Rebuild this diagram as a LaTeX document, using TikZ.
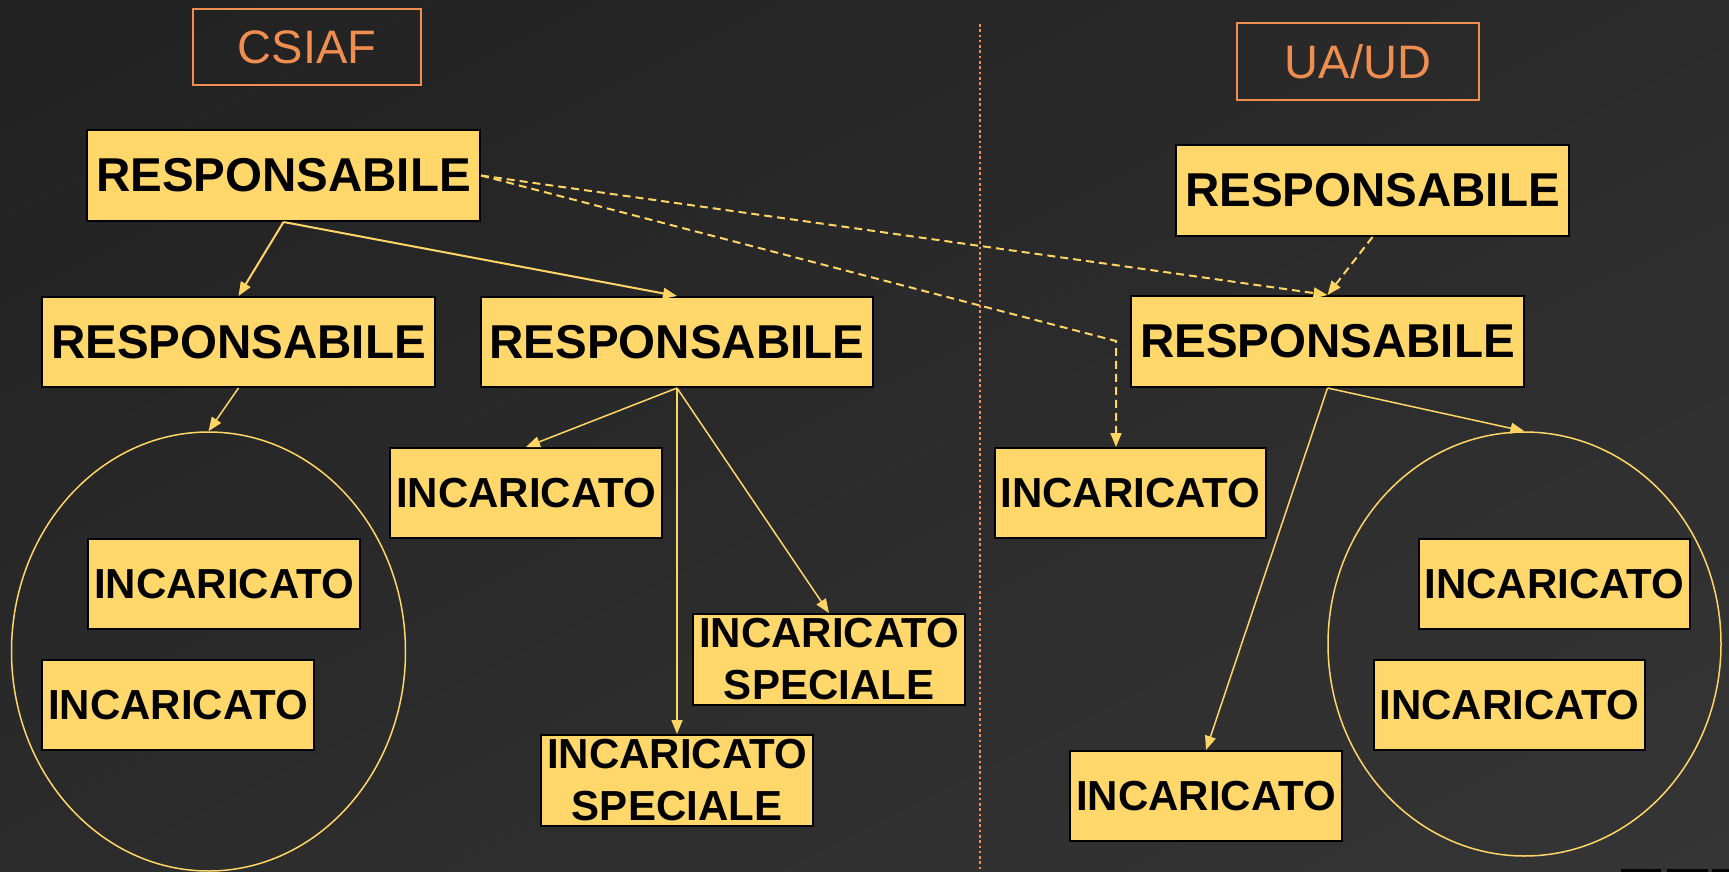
\documentclass[tikz,border=0pt]{standalone}
\usepackage{fontspec}
\setmainfont{Liberation Sans}
\usetikzlibrary{arrows.meta,shapes.geometric,shadings}
\definecolor{bgA}{RGB}{33,33,33}
\definecolor{bgM}{RGB}{43,43,43}
\definecolor{bgB}{RGB}{53,53,53}
\definecolor{boxY}{RGB}{255,215,106}
\definecolor{lineY}{RGB}{255,214,102}
\definecolor{orng}{RGB}{240,142,80}
\begin{document}
\begin{tikzpicture}[x=0.5pt,y=-0.5pt,
  rbox/.style={draw=black,line width=1pt,fill=boxY,inner sep=0pt,text=black,
    font=\bfseries\fontsize{23.75}{28}\selectfont,minimum width=196.5pt,minimum height=45.5pt},
  ibox/.style={draw=black,line width=1pt,fill=boxY,inner sep=0pt,text=black,align=center,
    font=\bfseries\fontsize{21}{26}\selectfont,minimum width=136pt,minimum height=45pt},
  lbox/.style={draw=orng,line width=0.8pt,text=orng,inner sep=0pt,
    font=\fontsize{23.5}{28}\selectfont,minimum height=38pt},
  grp/.style={draw=lineY,line width=0.75pt,ellipse,inner sep=0pt},
  tip/.style={-{Triangle[length=7pt,width=5.5pt]}},
  solidA/.style={tip,draw=lineY,line width=1pt},
  solidB/.style={tip,draw=lineY,line width=0.75pt},
  dashA/.style={tip,draw=lineY,line width=1pt,dash pattern=on 4pt off 2.5pt},
  divider/.style={draw=orng,line width=1.3pt,dash pattern=on 1.3pt off 1.35pt}
]
\useasboundingbox (0,0) rectangle (1729,872);
\shade[upper left=bgA,upper right=bgM,lower left=bgM,lower right=bgB] (0,0) rectangle (1729,872);
\fill[black] (1621,869) rectangle (1661,872);
\fill[black] (1667,869) rectangle (1708,872);
\fill[black] (1712,869) rectangle (1729,872);

% divider
\coordinate (dtop) at (980,24);
\coordinate (dbot) at (980,872);
\draw[divider] (dtop) -- (dbot);

% titles
\node[lbox,minimum width=114pt] (csiaf) at (307,47) {CSIAF};
\node[lbox,minimum width=121pt,minimum height=38.5pt] (uaud) at (1358,61.5) {UA/UD};

% groups
\node[grp,minimum width=197pt,minimum height=219.5pt] (ellL) at (208.5,651.5) {};
\node[grp,minimum width=196.5pt,minimum height=212pt] (ellR) at (1524.5,644) {};

% responsabili
\node[rbox] (topR) at (283.5,175.5) {RESPONSABILE};
\node[rbox,minimum height=45pt] (leftR) at (238.5,342) {RESPONSABILE};
\node[rbox,minimum width=196pt,minimum height=45pt] (midR) at (677,342) {RESPONSABILE};
\node[rbox] (uaTop) at (1372.5,190.5) {RESPONSABILE};
\node[rbox] (uaLow) at (1327.5,341.5) {RESPONSABILE};

% incaricati
\node[ibox] (inc1) at (526,493) {INCARICATO};
\node[ibox] (e1a) at (224,584) {INCARICATO};
\node[ibox] (e1b) at (178,705) {INCARICATO};
\node[ibox,minimum height=45.5pt] (spec1) at (829,659.5) {INCARICATO\\SPECIALE};
\node[ibox,minimum height=45.5pt] (spec2) at (677,780.5) {INCARICATO\\SPECIALE};
\node[ibox,minimum width=135.5pt] (inc2) at (1130.5,493) {INCARICATO};
\node[ibox] (inc3) at (1206,796) {INCARICATO};
\node[ibox,minimum width=135.5pt] (e2a) at (1554.5,584) {INCARICATO};
\node[ibox,minimum width=135.5pt] (e2b) at (1509.5,705) {INCARICATO};

% solid connectors
\draw[solidA] (topR.south) -- (leftR.north);
\draw[solidA] (topR.south) -- (midR.north);
\draw[solidB] (leftR.south) -- (ellL.north);
\draw[solidB] (midR.south) -- (inc1.north);
\draw[solidB] (midR.south) -- (spec2.north);
\draw[solidB] (midR.south) -- (spec1.north);
\draw[solidB] (uaLow.south) -- (inc3.north);
\draw[solidB] (uaLow.south) -- (ellR.north);

% dashed connectors
\coordinate (bend) at (1116,341);
\draw[dashA] (topR.east) -- (uaLow.north);
\draw[dashA] (topR.east) -- (bend) -- (bend |- inc2.north);
\draw[dashA] (uaTop.south) -- (uaLow.north);
\end{tikzpicture}
\end{document}
